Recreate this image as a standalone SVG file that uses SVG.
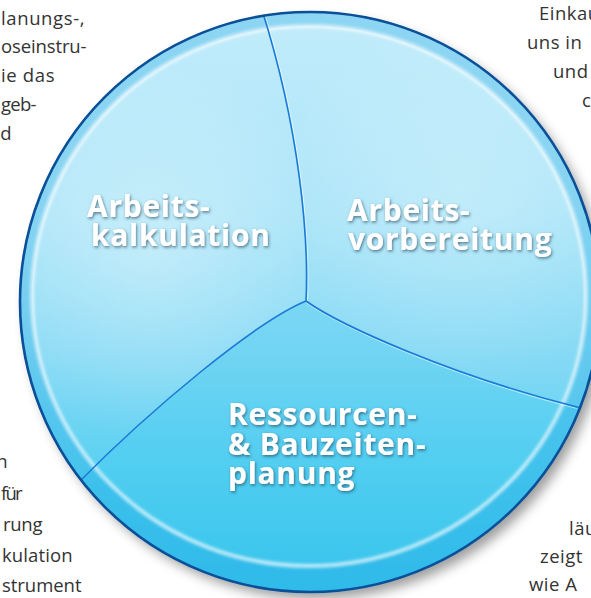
<svg xmlns="http://www.w3.org/2000/svg" width="591" height="598" viewBox="0 0 591 598">
<style>
.para{font-family:"Open Sans","Noto Sans","DejaVu Sans",sans-serif;font-size:18.5px;fill:#333;letter-spacing:0.5px}
.lbl{font-family:"Open Sans","Noto Sans","DejaVu Sans",sans-serif;font-size:30px;font-weight:bold;fill:#fff;letter-spacing:0.7px;filter:url(#tshadow)}
.sep{fill:none;stroke:#1a7ad6;stroke-width:1.6}
.sephl{fill:none;stroke:#fff;stroke-opacity:0.55;stroke-width:1}
</style>
<defs>
<clipPath id="disc"><circle cx="310" cy="302" r="291"/></clipPath>
<linearGradient id="gDisc" gradientUnits="userSpaceOnUse" x1="0" y1="11" x2="0" y2="593">
<stop offset="0" stop-color="#c2ecfb"/>
<stop offset="0.35" stop-color="#abe5f8"/>
<stop offset="0.58" stop-color="#88daf5"/>
<stop offset="0.8" stop-color="#58d0f1"/>
<stop offset="1" stop-color="#3ac3ec"/>
</linearGradient>
<radialGradient id="gHiL" gradientUnits="userSpaceOnUse" cx="150" cy="250" r="190">
<stop offset="0" stop-color="#fff" stop-opacity="0.35"/>
<stop offset="1" stop-color="#fff" stop-opacity="0"/>
</radialGradient>
<radialGradient id="gHiR" gradientUnits="userSpaceOnUse" cx="460" cy="200" r="190">
<stop offset="0" stop-color="#fff" stop-opacity="0.25"/>
<stop offset="1" stop-color="#fff" stop-opacity="0"/>
</radialGradient>
<filter id="blur6" x="-20%" y="-20%" width="140%" height="140%"><feGaussianBlur stdDeviation="6"/></filter>
<filter id="blur2" x="-10%" y="-10%" width="120%" height="120%"><feGaussianBlur stdDeviation="1.6"/></filter>
<filter id="tshadow" x="-10%" y="-30%" width="120%" height="160%"><feDropShadow dx="1" dy="1.5" stdDeviation="1.5" flood-color="#1b3d55" flood-opacity="0.65"/></filter>
</defs>

<g id="text-top-left">
<text class="para" x="1" y="25" textLength="84" lengthAdjust="spacing">lanungs-,</text>
<text class="para" x="1" y="53" textLength="86" lengthAdjust="spacing">oseinstru-</text>
<text class="para" x="1" y="82" textLength="54" lengthAdjust="spacing">ie das</text>
<text class="para" x="1" y="111" textLength="36" lengthAdjust="spacing">geb-</text>
<text class="para" x="12" y="140" text-anchor="end">d</text>
</g>
<g id="text-top-right">
<text class="para" x="539" y="20">Einkau</text>
<text class="para" x="527" y="49">uns in</text>
<text class="para" x="553" y="78">und</text>
<text class="para" x="582" y="107">c</text>
</g>
<g id="text-bottom-left">
<text class="para" x="8" y="468" text-anchor="end">n</text>
<text class="para" x="1" y="500" textLength="22" lengthAdjust="spacing">für</text>
<text class="para" x="3" y="531" textLength="40" lengthAdjust="spacing">rung</text>
<text class="para" x="2" y="562" textLength="71" lengthAdjust="spacing">kulation</text>
<text class="para" x="2" y="592" textLength="80" lengthAdjust="spacing">strument</text>
</g>
<g id="text-bottom-right">
<text class="para" x="569" y="535">läu</text>
<text class="para" x="540" y="563">zeigt</text>
<text class="para" x="529" y="591">wie A</text>
</g>

<circle id="disc-shadow" cx="316" cy="309" r="290" fill="#000" fill-opacity="0.38" filter="url(#blur6)"/>

<g clip-path="url(#disc)">
<g id="seg-arbeitskalkulation">
<path d="M306,301 C309,240 300,130 262,10 L252,-30 L-40,-40 L-40,640 L40,521 L78,483 C150,410 255,322 306,301 Z" fill="url(#gDisc)"/>
<path d="M306,301 C309,240 300,130 262,10 L252,-30 L-40,-40 L-40,640 L40,521 L78,483 C150,410 255,322 306,301 Z" fill="url(#gHiL)"/>
</g>
<g id="seg-arbeitsvorbereitung">
<path d="M306,301 C309,240 300,130 262,10 L252,-30 L640,-40 L640,423 L577,407 C450,375 340,325 306,301 Z" fill="url(#gDisc)"/>
<path d="M306,301 C309,240 300,130 262,10 L252,-30 L640,-40 L640,423 L577,407 C450,375 340,325 306,301 Z" fill="url(#gHiR)"/>
</g>
<g id="seg-ressourcen">
<path d="M306,301 C255,322 150,410 78,483 L40,521 L-40,640 L640,640 L640,423 L577,407 C450,375 340,325 306,301 Z" fill="url(#gDisc)"/>
<path d="M306,301 C255,322 150,410 78,483 L40,521 L-40,640 L640,640 L640,423 L577,407 C450,375 340,325 306,301 Z" fill="#2fc6ee" fill-opacity="0.24"/>
</g>
<path id="rim-band" d="M19,302 A291,291 0 1 0 601,302 A291,291 0 1 0 19,302 Z M32,296 A277,270 0 1 1 586,296 A277,270 0 1 1 32,296 Z" fill="#1ea8e2" fill-opacity="0.32" fill-rule="evenodd"/>
<ellipse cx="309" cy="296" rx="277" ry="270" fill="none" stroke="#fff" stroke-opacity="0.65" stroke-width="4" filter="url(#blur2)"/>
</g>

<g id="connectors" clip-path="url(#disc)">
<path class="sephl" d="M307.5,301 C310.5,240 301.5,130 263.5,10"/>
<path class="sephl" d="M306,302.5 C340,326.5 450,376.5 577,408.5"/>
<path class="sep" d="M306,301 C309,240 300,130 262,10 L252,-30"/>
<path class="sep" d="M306,301 C255,322 150,410 78,483 L40,521"/>
<path class="sep" d="M306,301 C340,325 450,375 577,407 L640,423"/>
</g>

<circle id="disc-edge" cx="310" cy="302" r="290" fill="none" stroke="#0b4f98" stroke-width="2.6"/>

<g id="label-arbeitskalkulation">
<text class="lbl" x="87" y="217">Arbeits-</text>
<text class="lbl" x="91" y="246">kalkulation</text>
</g>
<g id="label-arbeitsvorbereitung">
<text class="lbl" x="347" y="221">Arbeits-</text>
<text class="lbl" x="348" y="250">vorbereitung</text>
</g>
<g id="label-ressourcen">
<text class="lbl" x="228" y="425">Ressourcen-</text>
<text class="lbl" x="228" y="455">&amp; Bauzeiten-</text>
<text class="lbl" x="228" y="484">planung</text>
</g>
</svg>
